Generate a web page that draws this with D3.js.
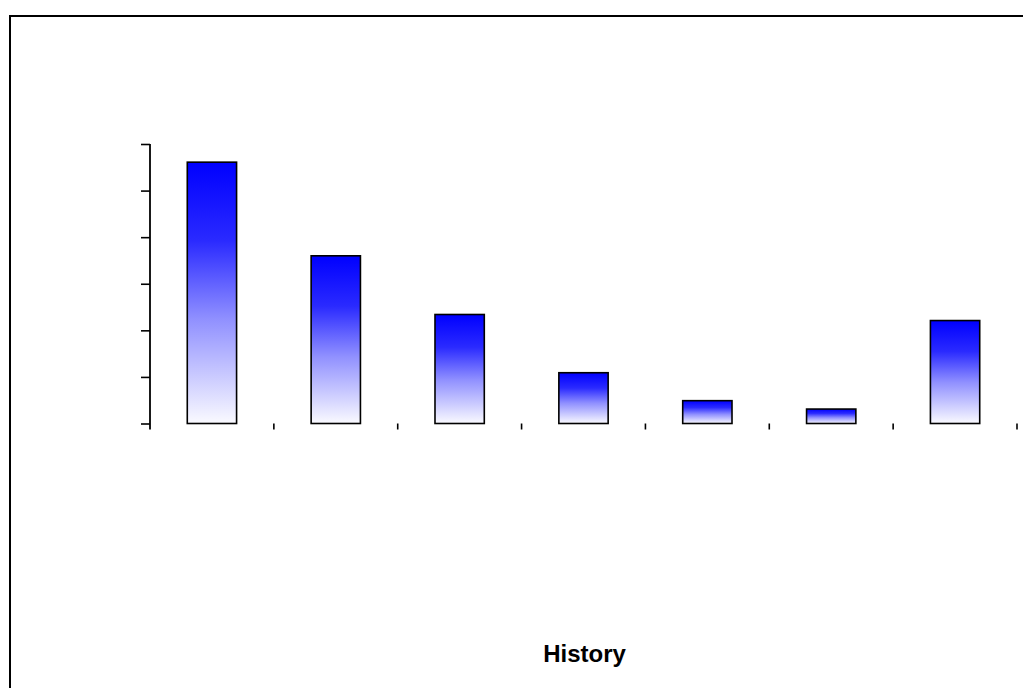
<!DOCTYPE html>
<html><head><meta charset="utf-8">
<script src="https://cdn.jsdelivr.net/npm/d3@7"></script>
<style>html,body{margin:0;padding:0;background:#fff;}svg{display:block;}</style>
</head><body>
<svg id="chart" width="1023" height="688"></svg>
<script>
const categories = ["C1","C2","C3","C4","C5","C6","C7"];
const values = [5.61, 3.60, 2.34, 1.09, 0.49, 0.31, 2.21];
const yTicks = [0,1,2,3,4,5,6];
const xTitle = "History";

(function(){
const svg = d3.select("#chart");
const plotL = 150, plotR = 1017, plotT = 144, plotB = 423.5;

// frame
svg.append("rect").attr("x",10).attr("y",16).attr("width",1100).attr("height",800)
  .attr("fill","#fff").attr("stroke","#000").attr("stroke-width",2);

const defs = svg.append("defs");
const grad = defs.append("linearGradient").attr("id","barGrad")
  .attr("x1","0").attr("y1","0").attr("x2","0").attr("y2","1");
grad.append("stop").attr("offset","0%").attr("stop-color","#0000ff");
grad.append("stop").attr("offset","30%").attr("stop-color","#2a2aff");
grad.append("stop").attr("offset","60%").attr("stop-color","#9090ff");
grad.append("stop").attr("offset","100%").attr("stop-color","#fafaff");

const x = d3.scaleBand().domain(categories).range([plotL,plotR]).padding(0);
const y = d3.scaleLinear().domain([0,6]).range([plotB,plotT]);

const bw = x.step()*0.398;
svg.append("g").selectAll("rect").data(values).join("rect")
  .attr("x",(d,i)=>x(categories[i])+x.bandwidth()/2-bw/2)
  .attr("y",d=>y(d))
  .attr("width",bw)
  .attr("height",d=>y(0)-y(d))
  .attr("fill","url(#barGrad)")
  .attr("stroke","#000").attr("stroke-width",1.6);

// y axis
const yAxis = d3.axisLeft(y).tickValues(yTicks).tickSize(9).tickFormat("").tickSizeOuter(0);
const gy = svg.append("g").attr("transform",`translate(${plotL},0)`).call(yAxis);
gy.select(".domain").remove();
gy.selectAll(".tick line").attr("stroke","#000").attr("stroke-width",1.6);
gy.append("line").attr("x1",0).attr("x2",0).attr("y1",plotT).attr("y2",plotB+6)
  .attr("stroke","#000").attr("stroke-width",1.8);

// x ticks at band boundaries
const edges = categories.slice(1).map(c=>x(c)).concat([x(categories[categories.length-1])+x.step()]);
svg.append("g").selectAll("line").data(edges).join("line")
  .attr("x1",d=>d).attr("x2",d=>d).attr("y1",plotB).attr("y2",plotB+6)
  .attr("stroke","#000").attr("stroke-width",1.6);

svg.append("text").attr("x",584.5).attr("y",662).attr("text-anchor","middle")
  .attr("font-family","Liberation Sans, Arial, sans-serif").attr("font-weight","bold")
  .attr("font-size",24).attr("fill","#000").text(xTitle);
})();
</script>
</body></html>
